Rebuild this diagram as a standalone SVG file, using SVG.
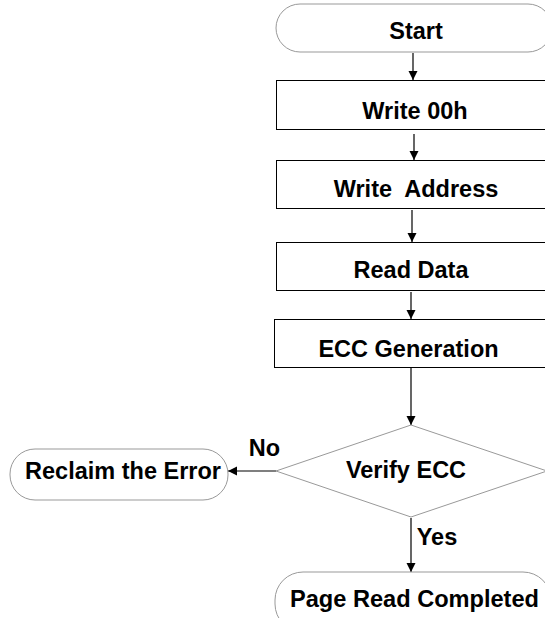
<svg xmlns="http://www.w3.org/2000/svg" width="545" height="618" viewBox="0 0 545 618">
<style>
.t{font-family:"Liberation Sans",Arial,sans-serif;font-weight:bold;font-size:23.5px;fill:#000;text-anchor:middle}
.box{fill:#fff;stroke:#000;stroke-width:1}
.term{fill:#fff;stroke:#999;stroke-width:1}
.c{stroke:#000;stroke-width:1.2;fill:none;marker-end:url(#ah)}
</style>
<defs>
<marker id="ah" markerUnits="userSpaceOnUse" markerWidth="9" markerHeight="10" refX="9" refY="4.5" orient="auto">
<path d="M0,0 L9,4.5 L0,9 z" fill="#000"/>
</marker>
</defs>
<rect width="545" height="618" fill="#fff"/>
<g id="connectors">
<line class="c" x1="413" y1="53" x2="413" y2="80"/>
<line class="c" x1="414" y1="134" x2="414" y2="160"/>
<line class="c" x1="412" y1="210" x2="412" y2="242"/>
<line class="c" x1="411" y1="292" x2="411" y2="319"/>
<line class="c" x1="411" y1="368" x2="411" y2="425"/>
<line class="c" x1="276" y1="471" x2="228" y2="471"/>
<line class="c" x1="411" y1="518" x2="411" y2="572"/>
</g>
<g id="start"><rect class="term" x="276" y="4" width="276" height="48" rx="24"/><text class="t" x="416" y="39">Start</text></g>
<g id="write00h"><rect class="box" x="276.5" y="80.5" width="275" height="49"/><text class="t" x="415" y="119">Write 00h</text></g>
<g id="writeaddr"><rect class="box" x="276.5" y="160.5" width="275" height="48"/><text class="t" x="416" y="197" xml:space="preserve">Write  Address</text></g>
<g id="readdata"><rect class="box" x="276.5" y="242.5" width="275" height="48"/><text class="t" x="411" y="278">Read Data</text></g>
<g id="eccgen"><rect class="box" x="274.5" y="319.5" width="277" height="48"/><text class="t" x="408.5" y="357">ECC Generation</text></g>
<g id="verify"><polygon class="term" points="411,425 547,471 411,517 276,471"/><text class="t" x="406" y="478">Verify ECC</text></g>
<g id="reclaim"><rect class="term" x="10" y="449" width="218" height="51" rx="25"/><text class="t" x="123" y="479">Reclaim the Error</text></g>
<g id="done"><rect class="term" x="275" y="572" width="276" height="60" rx="28"/><text class="t" x="414.5" y="607" textLength="249" lengthAdjust="spacingAndGlyphs">Page Read Completed</text></g>
<text class="t" x="264.5" y="456">No</text>
<text class="t" x="437" y="545">Yes</text>
</svg>
